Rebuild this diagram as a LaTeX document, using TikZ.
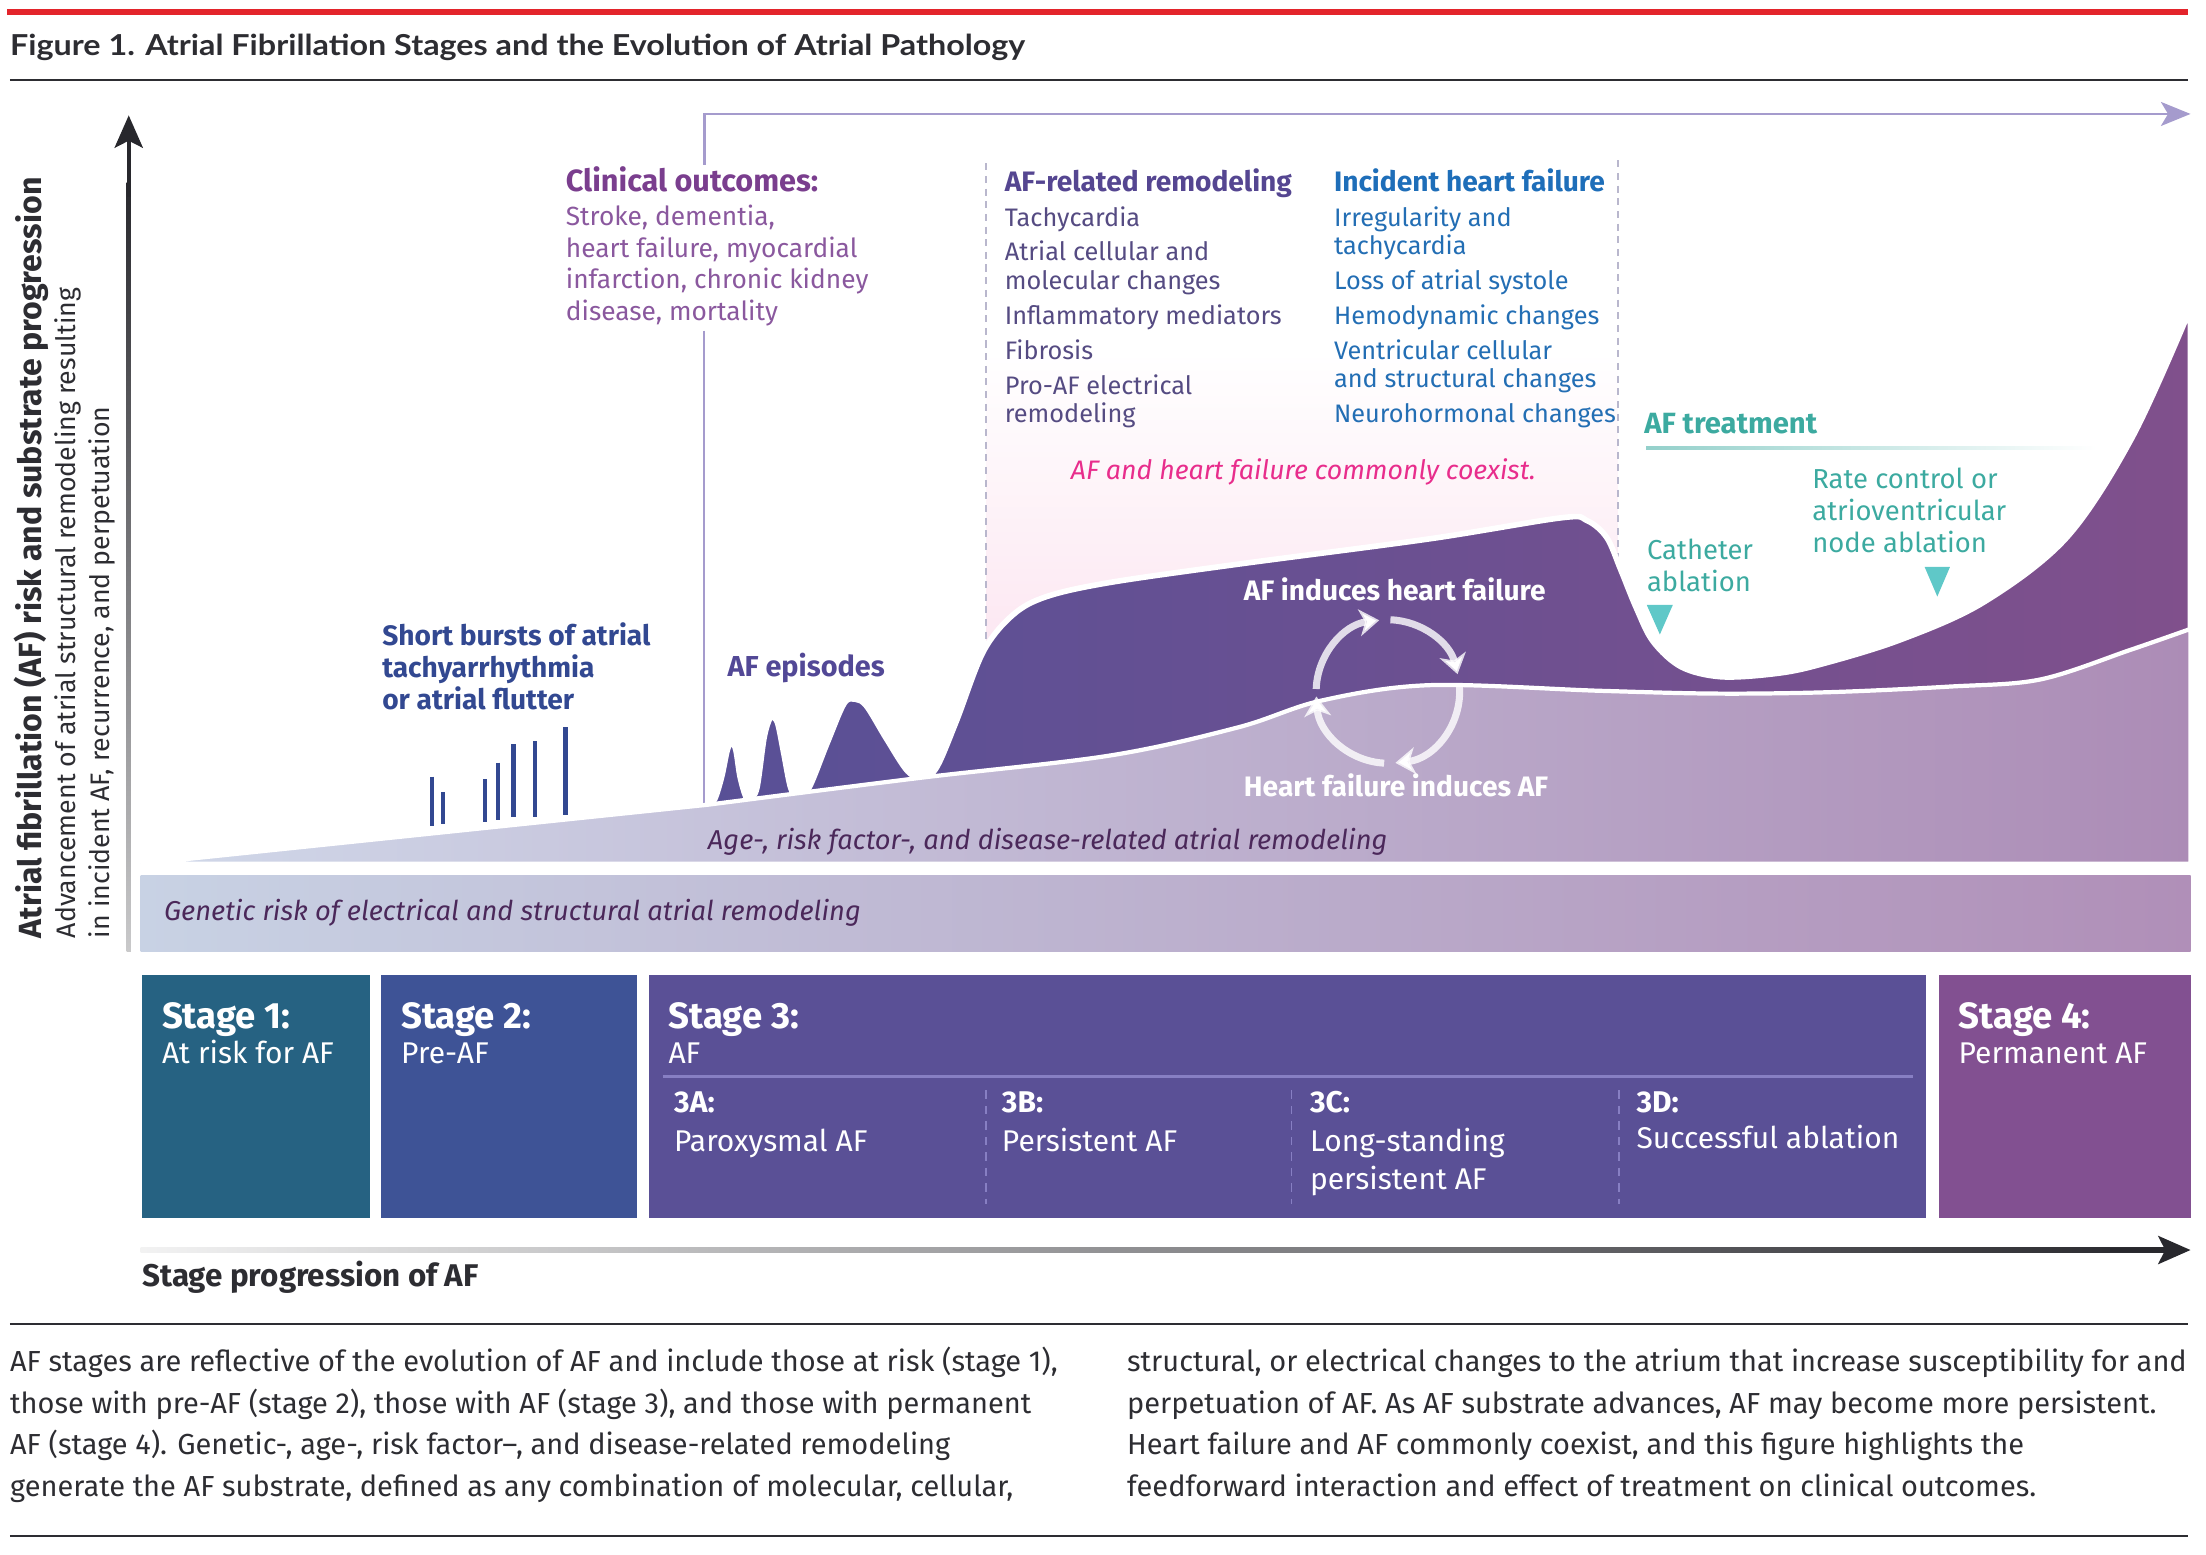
\documentclass[tikz,border=0pt]{standalone}
\usepackage{fontspec}
\setmainfont{Fira Sans}
\newfontfamily\titlefont[FakeStretch=1.12]{Lato}
\usepackage{tikz}
\usetikzlibrary{arrows.meta,positioning}
\newcommand{\fsz}[2]{\fontsize{#1}{#2}\selectfont}
\definecolor{afred}{RGB}{227,36,43}
\definecolor{titlegray}{RGB}{45,45,50}
\definecolor{axisdark}{RGB}{40,40,45}
\definecolor{lavline}{RGB}{165,155,205}
\definecolor{dashgray}{RGB}{185,183,205}
\definecolor{clinhead}{RGB}{122,62,142}
\definecolor{clintext}{RGB}{138,88,158}
\definecolor{remodhead}{RGB}{85,70,145}
\definecolor{remodtext}{RGB}{85,75,130}
\definecolor{hfhead}{RGB}{30,110,185}
\definecolor{hftext}{RGB}{35,110,180}
\definecolor{coexpink}{RGB}{232,45,140}
\definecolor{pinkbg}{RGB}{252,230,241}
\definecolor{treatteal}{RGB}{60,170,160}
\definecolor{triteal}{RGB}{95,200,200}
\definecolor{burstblue}{RGB}{50,72,145}
\definecolor{episodepurple}{RGB}{82,72,150}
\definecolor{darkL}{RGB}{88,80,150}
\definecolor{darkR}{RGB}{128,80,140}
\definecolor{lightL}{RGB}{208,216,233}
\definecolor{lightM}{RGB}{158,160,202}
\definecolor{lightR}{RGB}{172,140,182}
\definecolor{geneL}{RGB}{200,210,228}
\definecolor{geneM}{RGB}{165,165,203}
\definecolor{geneR}{RGB}{176,143,184}
\definecolor{substext}{RGB}{75,40,90}
\definecolor{stageone}{RGB}{38,98,130}
\definecolor{stagetwo}{RGB}{62,83,150}
\definecolor{stagethree}{RGB}{90,80,150}
\definecolor{stagefour}{RGB}{130,80,145}
\definecolor{stageline}{RGB}{135,127,195}

\begin{document}
\begin{tikzpicture}[
    x=1pt, y=-1pt,
    txt/.style={inner sep=0pt, anchor=base west, align=left},
    head/.style={txt, font=\fsz{20}{23}\bfseries},
    item/.style={txt, font=\fsz{18}{20}},
    tealtxt/.style={txt, font=\fsz{19.5}{23}, text=treatteal},
    loopword/.style={txt, font=\fsz{20}{23}\bfseries, text=white},
    substrate/.style={txt, font=\fsz{19.4}{22}\itshape, text=substext},
    stagehead/.style={txt, font=\fsz{26}{27}\bfseries, text=white},
    stagesub/.style={txt, font=\fsz{21.3}{27}, text=white},
    captxt/.style={txt, font=\fsz{20.6}{29.5}, text=titlegray},
    rule/.style={draw=titlegray, line width=1.5pt},
    axisarrow/.style={draw=axisdark, line width=3pt, -{Stealth[length=23pt, width=20pt, inset=5pt]}},
    lavarrow/.style={draw=lavline, line width=2pt, -{Stealth[length=21pt, width=17pt, inset=5pt]}},
    divider/.style={draw=dashgray, line width=1.3pt, dash pattern=on 5pt off 4pt},
    subdash/.style={draw=stageline, line width=1.3pt, dash pattern=on 6pt off 5pt},
    cyc/.style={draw=white, draw opacity=.8, line width=5pt, -{Stealth[length=14pt, width=19pt, inset=4pt]}},
    tri/.style={fill=triteal}
]
\useasboundingbox (0,0) rectangle (1568,1105);

% header
\fill[afred] (5,6.5) rectangle (1555,10.5);
\node[txt, font=\titlefont\bfseries\fsz{20.5}{22}, text=titlegray] (title) at (7,39.8)
  {Figure 1. Atrial Fibrillation Stages and the Evolution of Atrial Pathology};
\draw[rule] (7,57) -- (1555,57);

% vertical axis (multi-line nodes sit on their last baseline)
\coordinate (ytop) at (91.5,82);
\coordinate (ymid) at (91.5,140);
\shade[top color=axisdark, bottom color=axisdark!25] (90,130) rectangle (93,676);
\draw[axisarrow] (ymid) -- (ytop);
\node[txt, rotate=90, font=\fsz{19}{24}, text=titlegray] (ylab) at (77.5,667)
  {{\bfseries\fsz{22.8}{24}Atrial fibrillation (AF) risk and substrate progression}\\
   Advancement of atrial structural remodeling resulting\\
   in incident AF, recurrence, and perpetuation};

% clinical outcomes timeline
\coordinate (clinstart) at (500.5,117);
\coordinate (clinend) at (1557,81);
\draw[lavarrow] (clinstart) |- (clinend);
\draw[draw=lavline, line width=1.5pt] (500.5,235) -- (500.5,572);
\node[txt, font=\fsz{21.8}{23}\bfseries, text=clinhead] (clinhd) at (402,136) {Clinical outcomes:};
\node[txt, font=\fsz{18.7}{22.7}, text=clintext] (clinlist) at (402,228.1)
  {Stroke, dementia,\\heart failure, myocardial\\infarction, chronic kidney\\disease, mortality};

% coexistence panel
\shade[top color=white, bottom color=pinkbg] (701,250) rectangle (1150,470);
\draw[divider] (701,116) -- (701,470);
\draw[divider] (1150,114) -- (1150,400);
\node[head, text=remodhead] (remodhd) at (714,136) {AF-related remodeling};
\node[item, text=remodtext] (remodlist) at (714,300.5)
  {Tachycardia\\[4.5pt]Atrial cellular and\\molecular changes\\[5pt]Inflammatory mediators\\[5pt]Fibrosis\\[5pt]Pro-AF electrical\\remodeling};
\node[head, text=hfhead] (hfhd) at (948,136) {Incident heart failure};
\node[item, text=hftext] (hflist) at (948,300.5)
  {Irregularity and\\tachycardia\\[4.5pt]Loss of atrial systole\\[5pt]Hemodynamic changes\\[5pt]Ventricular cellular\\and structural changes\\[5pt]Neurohormonal changes};
\node[txt, font=\fsz{19}{20}\itshape, text=coexpink] (coexist) at (761,340.5) {AF and heart failure commonly coexist.};

% AF burden
\path[left color=darkL, right color=darkR, draw=white, line width=4pt]
  (503,572) -- plot[smooth, tension=0.55] coordinates {(503,572) (508,568) (513,552) (517,533) (520,528)
   (523,533) (526,552) (530,566) (533,568) (538,560) (543,525) (547,511) (550,510) (553,515) (557,535)
   (562,560) (567,566) (575,560) (588,528) (600,500) (608,497) (616,502) (630,525) (645,548) (656,553)
   (666,545) (680,512) (699,463) (720,437) (744,424) (789,414) (880,401) (1016,383) (1110,368) (1128,370)
   (1142,382) (1152,405) (1163,432) (1175,456) (1195,474) (1223,481) (1260,479) (1291,473) (1350,455)
   (1410,428) (1469,382) (1516,310) (1557,219)}
  -- (1557,614) -- (503,614) -- cycle;
\path[left color=lightL, middle color=lightM, right color=lightR, draw=white, line width=3pt]
  (100,614) -- plot[smooth, tension=0.55] coordinates {(503,572) (653,553) (789,537) (880,517) (939,498)
   (1016,487) (1137,491) (1220,493) (1300,492) (1386,488) (1450,483) (1514,462) (1557,447)}
  -- (1557,614) -- cycle;
\shade[left color=geneL, middle color=geneM, right color=geneR] (100,622) rectangle (1557,676);

% feedback loop
\coordinate (cycc) at (986.5,491.5);
\foreach \s/\e in {-178/-97, -88/-14, -5/84, 93/176}
  \draw[cyc] ([shift={(\s:51)}]cycc) arc[start angle=\s, end angle=\e, radius=51];
\node[loopword] (afhf) at (884,426.5) {AF induces heart failure};
\node[loopword] (hfaf) at (884,566) {Heart failure induces AF};
\node[substrate] (agelab) at (503,604) {Age-, risk factor-, and disease-related atrial remodeling};
\node[substrate] (genelab) at (116.5,654) {Genetic risk of electrical and structural atrial remodeling};

% early events
\node[txt, font=\fsz{20}{23}\bfseries, text=burstblue] (bursts) at (271.5,504.5)
  {Short bursts of atrial\\tachyarrhythmia\\or atrial flutter};
\foreach \x/\t/\b in {307/552/587, 315/563/586, 345/554/584, 354/542/583, 365/529/581, 380/527/581, 402/517/579}
  \draw[burstblue, line width=3pt] (\x,\t) -- (\x,\b);
\node[txt, font=\fsz{20.5}{23}\bfseries, text=episodepurple] (episodes) at (517,481) {AF episodes};

% treatment
\node[txt, font=\fsz{20.8}{23}\bfseries, text=treatteal] (treathd) at (1168.5,308) {AF treatment};
\shade[left color=treatteal!55, right color=white] (1170,317.5) rectangle (1490,319.5);
\node[tealtxt] (cathabl) at (1170.5,420.5) {Catheter\\ablation};
\node[tealtxt] (ratectl) at (1288,393) {Rate control or\\atrioventricular\\node ablation};
\fill[tri] (1170.5,430) -- (1189,430) -- (1179.8,451) -- cycle;
\fill[tri] (1368,403) -- (1386,403) -- (1377,424) -- cycle;

% stages
\foreach \xa/\xb/\col/\num/\sub in {101/263/stageone/1/At risk for AF, 271/453/stagetwo/2/Pre-AF,
    461/1369/stagethree/3/AF, 1378/1557/stagefour/4/Permanent AF} {
  \fill[\col] (\xa,693) rectangle (\xb,866);
  \node[stagehead] (stg\num) at (\xa+14,731) {Stage \num:};
  \node[stagesub] (stgsub\num) at (\xa+14,756) {\sub};
}
\draw[draw=stageline, line width=2pt] (471,765) -- (1360,765);
\foreach \x in {701,918,1151}
  \draw[subdash] (\x,775) -- (\x,856);
\foreach \x/\id/\t/\y in {479/A/Paroxysmal AF/818.6, 712/B/Persistent AF/818.6,
    931/C/{Long-standing\\persistent AF}/845.6, 1163/D/Successful ablation/816} {
  \node[txt, font=\fsz{21.3}{27}\bfseries, text=white] (sub\id) at (\x,791) {3\id:};
  \node[stagesub] (subtxt\id) at (\x,\y) {\t};
}

% stage axis
\coordinate (xend) at (1557,888.5);
\coordinate (xmid) at (1500,888.5);
\shade[left color=axisdark!6, middle color=axisdark!75, right color=axisdark] (100,887) rectangle (1540,890);
\draw[axisarrow] (xmid) -- (xend);
\node[txt, font=\fsz{22.3}{24}\bfseries, text=titlegray] (xlab) at (101,914.6) {Stage progression of AF};

% caption
\draw[rule] (7,941) -- (1555,941);
\node[captxt] (capleft) at (7,1063.5)
  {AF stages are reflective of the evolution of AF and include those at risk (stage 1),\\
   those with pre-AF (stage 2), those with AF (stage 3), and those with permanent\\
   AF (stage 4). Genetic-, age-, risk factor–, and disease-related remodeling\\
   generate the AF substrate, defined as any combination of molecular, cellular,};
\node[captxt] (capright) at (801,1063.5)
  {structural, or electrical changes to the atrium that increase susceptibility for and\\
   perpetuation of AF. As AF substrate advances, AF may become more persistent.\\
   Heart failure and AF commonly coexist, and this figure highlights the\\
   feedforward interaction and effect of treatment on clinical outcomes.};
\draw[rule] (7,1092) -- (1555,1092);
\end{tikzpicture}
\end{document}
